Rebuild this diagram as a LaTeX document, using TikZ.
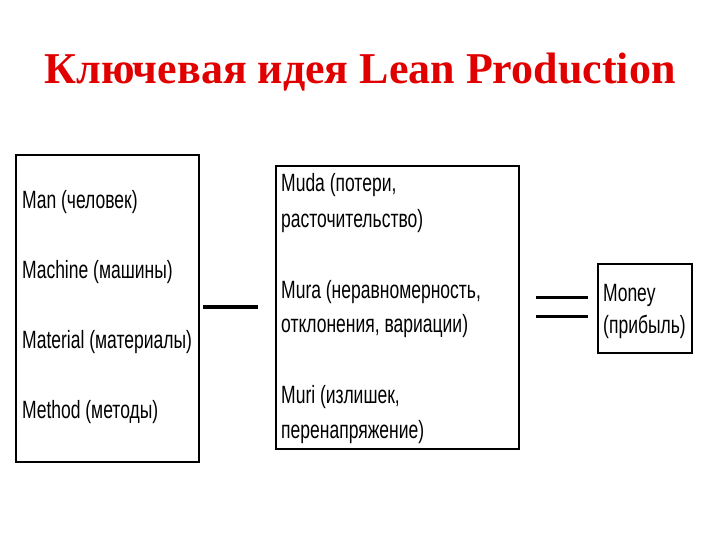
\documentclass[tikz,border=0pt]{standalone}
\usepackage{fontspec}
\setmainfont{Liberation Serif}
\newfontfamily\boxfont[FakeStretch=0.70]{Liberation Sans}
\definecolor{titlered}{RGB}{225,0,0}
\begin{document}
\begin{tikzpicture}[x=1pt,y=-1pt,
  frame/.style={draw=black,line width=2pt,inner sep=0pt,anchor=north west},
  itemtext/.style={font=\boxfont\fontsize{25}{25}\selectfont,anchor=base west,inner sep=0pt},
  sign/.style={line width=3.5pt}]
\useasboundingbox (0,0) rectangle (720,540);
\node[font=\bfseries\fontsize{44}{44}\selectfont,text=titlered,anchor=base,inner sep=0pt] (title) at (360,84) {Ключевая идея Lean Production};
% boxes
\node[frame,minimum width=183pt,minimum height=307pt] (b1) at (15,154) {};
\node[frame,minimum width=243pt,minimum height=283pt] (b2) at (275,165) {};
\node[frame,minimum width=94pt,minimum height=89pt] (b3) at (597,263) {};
% left box text
\node[itemtext] (t1) at (22,208) {Man (человек)};
\node[itemtext] (t2) at (22,278) {Machine (машины)};
\node[itemtext] (t3) at (22,348) {Material (материалы)};
\node[itemtext] (t4) at (22,418) {Method (методы)};
% middle box text
\node[itemtext] (m1) at (281,192) {Muda (потери,};
\node[itemtext] (m2) at (281,227) {расточительство)};
\node[itemtext] (m3) at (281,298) {Mura (неравномерность,};
\node[itemtext] (m4) at (281,332) {отклонения, вариации)};
\node[itemtext] (m5) at (281,403) {Muri (излишек,};
\node[itemtext] (m6) at (281,438) {перенапряжение)};
% right box text
\node[itemtext] (r1) at (603,301) {Money};
\node[itemtext] (r2) at (603,333) {(прибыль)};
% signs
\coordinate (minusL) at (203,307);
\coordinate (minusR) at (258,307);
\draw[sign] (minusL) -- (minusR);
\coordinate (eqAL) at (536,297);
\coordinate (eqAR) at (588,297);
\coordinate (eqBL) at (536,316);
\coordinate (eqBR) at (588,316);
\draw[line width=3pt] (eqAL) -- (eqAR);
\draw[line width=3pt] (eqBL) -- (eqBR);
\end{tikzpicture}
\end{document}
